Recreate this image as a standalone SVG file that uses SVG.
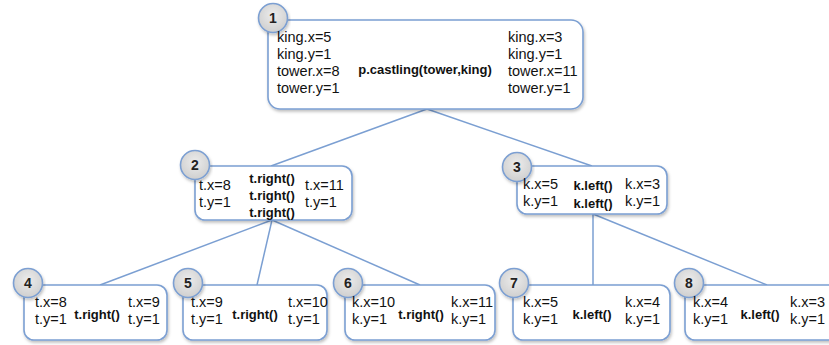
<svg xmlns="http://www.w3.org/2000/svg" width="829" height="345" viewBox="0 0 829 345">
<defs>
<filter id="sh" x="-10%" y="-10%" width="120%" height="130%">
<feDropShadow dx="1" dy="2" stdDeviation="1.5" flood-color="#000" flood-opacity="0.25"/>
</filter>
<radialGradient id="cg" cx="50%" cy="40%" r="60%">
<stop offset="0" stop-color="#ececec"/>
<stop offset="1" stop-color="#cfcfcf"/>
</radialGradient>
</defs>
<style>
.box{fill:#fff;stroke:#7b9fd2;stroke-width:1.6;filter:url(#sh)}
.num{fill:url(#cg);stroke:#7b9fd2;stroke-width:1.6;filter:url(#sh)}
.n{font-family:"Liberation Sans",Arial,sans-serif;font-size:14px;font-weight:bold;fill:#222;text-anchor:middle}
.t{font-family:"Liberation Sans",Arial,sans-serif;font-size:14.5px;fill:#111}
.b{font-family:"Liberation Sans",Arial,sans-serif;font-size:13px;font-weight:bold;fill:#111;text-anchor:middle}
.c{stroke:#7b9fd2;stroke-width:1.5;fill:none}
</style>
<rect width="829" height="345" fill="#fff"/>
<g id="connectors">
<line class="c" x1="427" y1="109" x2="271" y2="166"/>
<line class="c" x1="427" y1="109" x2="592" y2="166"/>
<line class="c" x1="272" y1="220" x2="100" y2="285"/>
<line class="c" x1="272" y1="220" x2="257" y2="285"/>
<line class="c" x1="272" y1="220" x2="420" y2="285"/>
<line class="c" x1="593" y1="214" x2="593" y2="285"/>
<line class="c" x1="593" y1="214" x2="767" y2="285"/>
</g>
<g id="node1">
<rect class="box" x="268" y="20" width="315" height="89" rx="12"/>
<circle class="num" cx="273" cy="18" r="14.5"/>
<text class="n" x="273" y="23">1</text>
<text class="t" x="277" y="42">king.x=5</text>
<text class="t" x="277" y="59">king.y=1</text>
<text class="t" x="277" y="76">tower.x=8</text>
<text class="t" x="277" y="93">tower.y=1</text>
<text class="b" x="425" y="74">p.castling(tower,king)</text>
<text class="t" x="508" y="42">king.x=3</text>
<text class="t" x="508" y="59">king.y=1</text>
<text class="t" x="508" y="76">tower.x=11</text>
<text class="t" x="508" y="93">tower.y=1</text>
</g>
<g id="node2">
<rect class="box" x="195" y="166" width="157" height="54" rx="10"/>
<circle class="num" cx="195" cy="165" r="14.5"/>
<text class="n" x="195" y="170">2</text>
<text class="t" x="199" y="190">t.x=8</text>
<text class="t" x="199" y="207">t.y=1</text>
<text class="b" x="272" y="183">t.right()</text>
<text class="b" x="272" y="200">t.right()</text>
<text class="b" x="272" y="217">t.right()</text>
<text class="t" x="305" y="190">t.x=11</text>
<text class="t" x="305" y="207">t.y=1</text>
</g>
<g id="node3">
<rect class="box" x="517" y="166" width="150" height="48" rx="10"/>
<circle class="num" cx="517" cy="167" r="14.5"/>
<text class="n" x="517" y="172">3</text>
<text class="t" x="523" y="189">k.x=5</text>
<text class="t" x="523" y="206">k.y=1</text>
<text class="b" x="593" y="190">k.left()</text>
<text class="b" x="593" y="208">k.left()</text>
<text class="t" x="625" y="189">k.x=3</text>
<text class="t" x="625" y="206">k.y=1</text>
</g>
<g id="node4">
<rect class="box" x="24" y="285" width="143" height="55" rx="10"/>
<circle class="num" cx="28" cy="283" r="14.5"/>
<text class="n" x="28" y="288">4</text>
<text class="t" x="35" y="307">t.x=8</text>
<text class="t" x="35" y="324">t.y=1</text>
<text class="b" x="97" y="319">t.right()</text>
<text class="t" x="128" y="307">t.x=9</text>
<text class="t" x="128" y="324">t.y=1</text>
</g>
<g id="node5">
<rect class="box" x="183" y="285" width="144" height="55" rx="10"/>
<circle class="num" cx="188" cy="283" r="14.5"/>
<text class="n" x="188" y="288">5</text>
<text class="t" x="191" y="307">t.x=9</text>
<text class="t" x="191" y="324">t.y=1</text>
<text class="b" x="255" y="319">t.right()</text>
<text class="t" x="288" y="307">t.x=10</text>
<text class="t" x="288" y="324">t.y=1</text>
</g>
<g id="node6">
<rect class="box" x="345" y="285" width="150" height="55" rx="10"/>
<circle class="num" cx="348" cy="283" r="14.5"/>
<text class="n" x="348" y="288">6</text>
<text class="t" x="352" y="307">k.x=10</text>
<text class="t" x="352" y="324">k.y=1</text>
<text class="b" x="421" y="319">t.right()</text>
<text class="t" x="451" y="307">k.x=11</text>
<text class="t" x="451" y="324">k.y=1</text>
</g>
<g id="node7">
<rect class="box" x="513" y="285" width="157" height="55" rx="10"/>
<circle class="num" cx="514" cy="283" r="14.5"/>
<text class="n" x="514" y="288">7</text>
<text class="t" x="523" y="307">k.x=5</text>
<text class="t" x="523" y="324">k.y=1</text>
<text class="b" x="592" y="319">k.left()</text>
<text class="t" x="625" y="307">k.x=4</text>
<text class="t" x="625" y="324">k.y=1</text>
</g>
<g id="node8">
<rect class="box" x="685" y="285" width="160" height="55" rx="10"/>
<circle class="num" cx="689" cy="283" r="14.5"/>
<text class="n" x="689" y="288">8</text>
<text class="t" x="693" y="307">k.x=4</text>
<text class="t" x="693" y="324">k.y=1</text>
<text class="b" x="760" y="319">k.left()</text>
<text class="t" x="790" y="307">k.x=3</text>
<text class="t" x="790" y="324">k.y=1</text>
</g>
</svg>
